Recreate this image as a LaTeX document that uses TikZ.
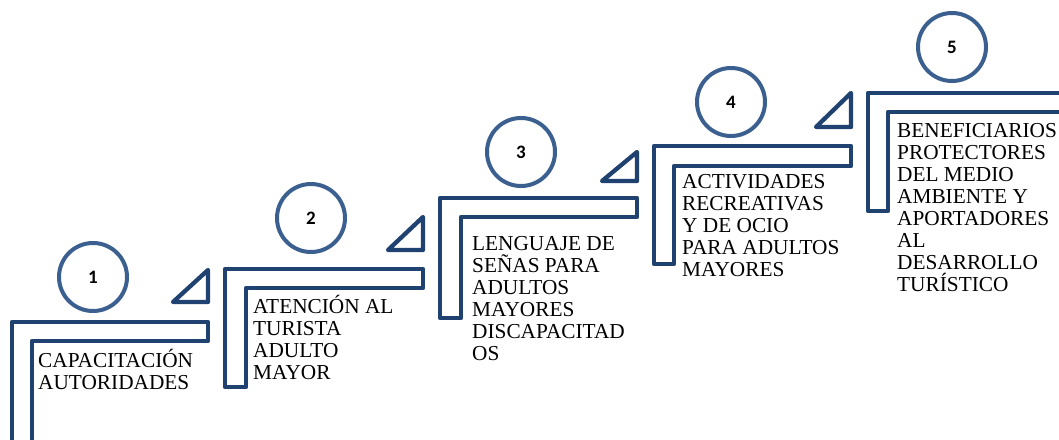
\documentclass[tikz,border=0pt]{standalone}
\usepackage{fontspec}
\setmainfont{Liberation Serif}
\newfontfamily\numfont{Carlito}
\definecolor{azuloscuro}{HTML}{1F4270}
\definecolor{azulclaro}{HTML}{3B6090}
\begin{document}
\begin{tikzpicture}[x=1pt, y=-1pt, escalon/.style = {draw=azuloscuro,line width=4.3pt,line join=round}, triangulo/.style = {draw=azuloscuro,line width=4.3pt,line join=round}, circulo/.style = {circle,draw=azulclaro,line width=4pt,minimum size=68pt,inner sep=0pt,font=\numfont\bfseries\fontsize{19}{19}\selectfont}, texto/.style = {anchor=north west,inner sep=0pt,align=left,font=\fontsize{21.3}{22}\selectfont},]
		\useasboundingbox (0,0) rectangle (1059,439);
		\clip (0,0) rectangle (1059,439);

		\draw[escalon] (12,322) -- (208,322) -- (208,341) -- (32,341) -- (32,460) -- (12,460) -- cycle;
		\draw[escalon] (225,269) -- (423,269) -- (423,288) -- (246,288) -- (246,387) -- (225,387) -- cycle;
		\draw[escalon] (440,198) -- (637,198) -- (637,217) -- (461,217) -- (461,318) -- (440,318) -- cycle;
		\draw[escalon] (654,146) -- (851,146) -- (851,166) -- (674,166) -- (674,264) -- (654,264) -- cycle;
		\draw[escalon] (868,93) -- (1080,93) -- (1080,112) -- (888,112) -- (888,211) -- (868,211) -- cycle;

		\draw[triangulo] (208,302) -- (208,270) -- (173,302) -- cycle;
		\draw[triangulo] (423,250) -- (423,217) -- (388,250) -- cycle;
		\draw[triangulo] (637,181) -- (637,152) -- (602,181) -- cycle;
		\draw[triangulo] (851,127) -- (851,93) -- (816,127) -- cycle;

		\node[circulo] (c1) at (93,277) {1};
		\node[circulo] (c2) at (311,218) {2};
		\node[circulo] (c3) at (521,152) {3};
		\node[circulo] (c4) at (731,102) {4};
		\node[circulo] (c5) at (952,47) {5};

		\node[texto] (t1) at (38,348) {\rule{0pt}{19pt}CAPACITACIÓN\\AUTORIDADES};
		\node[texto] (t2) at (253,294) {\rule{0pt}{19pt}ATENCIÓN AL\\TURISTA\\ADULTO\\MAYOR};
		\node[texto] (t3) at (472,231) {\rule{0pt}{19pt}LENGUAJE DE\\SEÑAS PARA\\ADULTOS\\MAYORES\\DISCAPACITAD\\OS};
		\node[texto] (t4) at (682,169) {\rule{0pt}{19pt}ACTIVIDADES\\RECREATIVAS\\Y DE OCIO\\PARA ADULTOS\\MAYORES};
		\node[texto] (t5) at (897,118) {\rule{0pt}{19pt}BENEFICIARIOS\\PROTECTORES\\DEL MEDIO\\AMBIENTE Y\\APORTADORES\\AL\\DESARROLLO\\TURÍSTICO};
	\end{tikzpicture}
\end{document}
